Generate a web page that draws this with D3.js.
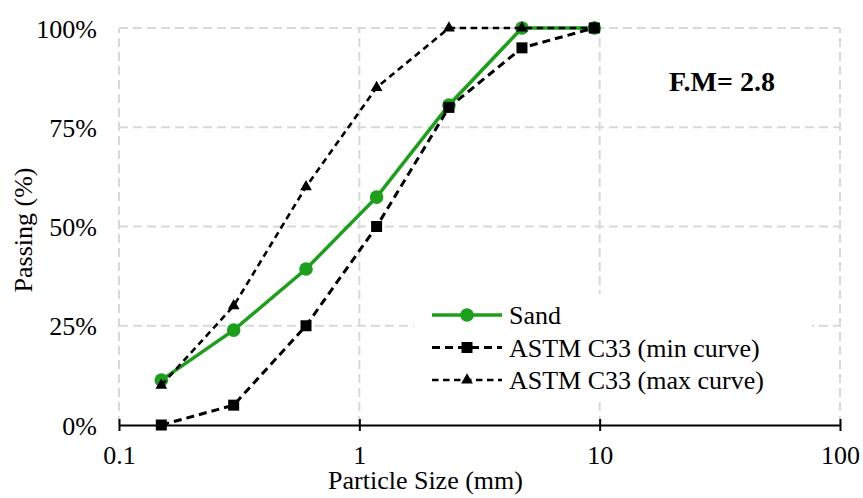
<!DOCTYPE html>
<html>
<head>
<meta charset="utf-8">
<script src="https://cdn.jsdelivr.net/npm/d3@7"></script>
<style>
    body { margin: 0; background: #fff; }
    text { fill: #000; }
    .grid line { stroke: #d9d9d9; stroke-width: 2; stroke-dasharray: 9,5; }
</style>
</head>
<body>
<div id="chart"></div>
<script>
// sieve sizes (mm) and percent passing
const sieveSizes = [0.15, 0.3, 0.6, 1.18, 2.36, 4.75, 9.5];
const sandPassing = [11.3, 23.9, 39.3, 57.4, 80.6, 100, 100];
const minCurve = [0, 5, 25, 50, 80, 95, 100];
const maxCurve = [10, 30, 60, 85, 100, 100, 100];
const seriesNames = ["Sand", "ASTM C33 (min curve)", "ASTM C33 (max curve)"];
const xTicks = [0.1, 1, 10, 100];
const yTicks = [0, 25, 50, 75, 100];
const fmNote = "F.M= 2.8";

const serif = "Liberation Serif";
const width = 863, height = 498;
const margin = {top: 28, right: 23, bottom: 73, left: 119};
const innerW = width - margin.left - margin.right;
const innerH = height - margin.top - margin.bottom;

let svg = d3.select("#chart").append("svg")
    .attr("width", width)
    .attr("height", height)
    .attr("font-family", serif);

let x = d3.scaleLog().domain([0.1, 100]).range([margin.left, margin.left + innerW]);
let y = d3.scaleLinear().domain([0, 100]).range([margin.top + innerH, margin.top]);

// gridlines
let grid = svg.append("g").attr("class", "grid");
grid.selectAll("line.h").data(yTicks.filter(d => d > 0)).enter().append("line")
    .attr("class", "h")
    .attr("x1", x(0.1)).attr("x2", x(100))
    .attr("y1", d => y(d)).attr("y2", d => y(d));
grid.selectAll("line.v").data(xTicks).enter().append("line")
    .attr("class", "v")
    .attr("x1", d => x(d)).attr("x2", d => x(d))
    .attr("y1", y(0)).attr("y2", y(100));

// legend background hides the grid behind it
svg.append("rect")
    .attr("x", 414).attr("y", 294)
    .attr("width", 398).attr("height", 107)
    .attr("fill", "#fff");

// x axis with ticks crossing the line
let xAxis = svg.append("g")
    .attr("transform", "translate(0," + y(0) + ")")
    .call(d3.axisBottom(x).tickValues(xTicks).tickFormat(d3.format("")).tickSizeOuter(0));
xAxis.attr("font-family", serif).attr("font-size", 26);
xAxis.select(".domain").attr("stroke", "#000").attr("stroke-width", 2);
xAxis.selectAll(".tick line").attr("y1", -6).attr("y2", 6).attr("stroke", "#000").attr("stroke-width", 2);
xAxis.selectAll(".tick text")
    .attr("y", 39).attr("dy", 0);

// y axis, labels only
let yAxis = svg.append("g")
    .attr("transform", "translate(" + margin.left + ",0)")
    .call(d3.axisLeft(y).tickValues(yTicks).tickFormat(d => d + "%").tickSize(0).tickPadding(22));
yAxis.attr("font-family", serif).attr("font-size", 26);
yAxis.select(".domain").remove();
yAxis.selectAll(".tick text")
    .attr("dy", "0.35em");

// axis titles
svg.append("text")
    .attr("x", (x(0.1) + x(100)) / 2 - 54)
    .attr("y", 489)
    .attr("text-anchor", "middle")
    .attr("font-size", 26)
    .text("Particle Size (mm)");

svg.append("text")
    .attr("transform", "translate(32," + 230 + ") rotate(-90)")
    .attr("text-anchor", "middle")
    .attr("font-size", 26)
    .text("Passing (%)");

svg.append("text")
    .attr("x", 722).attr("y", 91)
    .attr("text-anchor", "middle")
    .attr("font-size", 28)
    .attr("font-weight", "bold")
    .text(fmNote);

// series
let series = [
    {name: seriesNames[0], values: sandPassing, color: "#1ca01c", width: 3.5, dash: null, symbol: "circle"},
    {name: seriesNames[1], values: minCurve, color: "#000", width: 3, dash: "8,5", symbol: "square"},
    {name: seriesNames[2], values: maxCurve, color: "#000", width: 2.6, dash: "6.5,4.5", symbol: "triangle"}
];

let line = d3.line()
    .x(d => x(d[0]))
    .y(d => y(d[1]));

function drawMarker(g, s, cx, cy) {
    if (s.symbol == "circle") {
        g.append("circle").attr("cx", cx).attr("cy", cy).attr("r", 6.8).attr("fill", s.color);
    } else {
        let type = s.symbol == "square" ? d3.symbolSquare : d3.symbolTriangle;
        let size = s.symbol == "square" ? 121 : 60;
        g.append("path")
            .attr("d", d3.symbol().type(type).size(size)())
            .attr("transform", "translate(" + cx + "," + cy + ")")
            .attr("fill", s.color);
    }
}

series.forEach((s) => {
    let pts = sieveSizes.map((d, i) => [d, s.values[i]]);
    let g = svg.append("g");
    g.append("path")
        .datum(pts)
        .attr("d", line)
        .attr("fill", "none")
        .attr("stroke", s.color)
        .attr("stroke-width", s.width)
        .attr("stroke-dasharray", s.dash);
    pts.forEach(p => drawMarker(g, s, x(p[0]), y(p[1])));
});

// legend
let legend = svg.append("g");
series.forEach((s, i) => {
    let ly = 315 + i * 32.5;
    legend.append("line")
        .attr("x1", 432).attr("x2", 502)
        .attr("y1", ly).attr("y2", ly)
        .attr("stroke", s.color)
        .attr("stroke-width", s.width)
        .attr("stroke-dasharray", s.dash);
    drawMarker(legend, s, 467, ly);
    legend.append("text")
        .attr("x", 509).attr("y", ly + 9)
        .attr("font-size", 26)
        .text(s.name);
});
</script>
</body>
</html>
